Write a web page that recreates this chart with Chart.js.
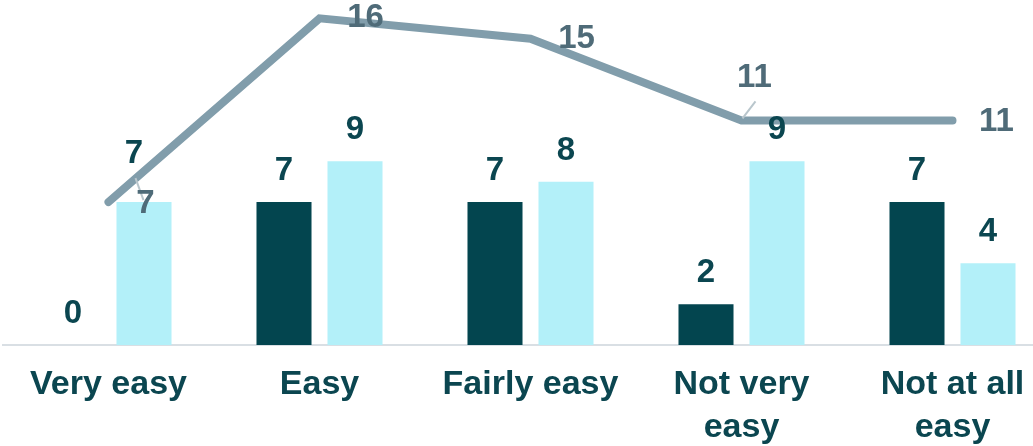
<!DOCTYPE html>
<html>
<head>
<meta charset="utf-8">
<script src="https://cdn.jsdelivr.net/npm/chart.js@4"></script>
<style>
html,body{margin:0;padding:0;background:#fff;overflow:hidden;width:1033px;height:446px;}
#wrap{position:absolute;left:0;top:0;width:1061px;height:446px;}
</style>
</head>
<body>
<div id="wrap"><canvas id="c" width="1061" height="446"></canvas></div>
<script>
const categories = [["Very easy"], ["Easy"], ["Fairly easy"], ["Not very", "easy"], ["Not at all", "easy"]];
const darkSeries = [0, 7, 7, 2, 7];
const lightSeries = [7, 9, 8, 9, 4];
const lineSeries = [7, 16, 15, 11, 11];

const DARK = '#03454f';
const LIGHT = '#b3f0f9';
const LINE = '#819dab';
const BAR_LABEL = '#0b4650';
const LINE_LABEL = '#4f6b78';

const labelPlugin = {
  id: 'valueLabels',
  afterDatasetsDraw(chart) {
    const ctx = chart.ctx;
    ctx.save();
    ctx.textAlign = 'center';
    ctx.textBaseline = 'middle';
    ctx.font = 'bold 33px "Liberation Sans", Arial, sans-serif';
    [0, 1].forEach(d => {
      const meta = chart.getDatasetMeta(d);
      const vals = chart.data.datasets[d].data;
      meta.data.forEach((el, i) => {
        let dx = 0, dy = -31;
        if (d === 1 && i === 0) { dx = -10; dy = -48; }
        ctx.fillStyle = BAR_LABEL;
        ctx.fillText(String(vals[i]), el.x + dx, el.y + dy);
      });
    });
    const lm = chart.getDatasetMeta(2);
    const lv = chart.data.datasets[2].data;
    const offs = [[37, 2], [46, 0], [46, 0], [13, -43], [44, 1]];
    const leaders = {0: [27, -24, 35, -2], 3: [1, -2, 14, -19]};
    lm.data.forEach((el, i) => {
      if (leaders[i]) {
        const l = leaders[i];
        ctx.strokeStyle = '#b9c6cc';
        ctx.lineWidth = 2;
        ctx.beginPath();
        ctx.moveTo(el.x + l[0], el.y + l[1]);
        ctx.lineTo(el.x + l[2], el.y + l[3]);
        ctx.stroke();
      }
      ctx.fillStyle = LINE_LABEL;
      ctx.fillText(String(lv[i]), el.x + offs[i][0], el.y + offs[i][1]);
    });
    ctx.restore();
  }
};

new Chart(document.getElementById('c'), {
  data: {
    labels: categories,
    datasets: [
      {type: 'bar', data: darkSeries, backgroundColor: DARK, categoryPercentage: 0.673, barPercentage: 0.775, order: 2},
      {type: 'bar', data: lightSeries, backgroundColor: LIGHT, categoryPercentage: 0.673, barPercentage: 0.775, order: 2},
      {type: 'line', data: lineSeries, borderColor: LINE, borderWidth: 8, borderCapStyle: 'round',
       borderJoinStyle: 'miter', pointRadius: 0, tension: 0, clip: false, order: 1}
    ]
  },
  options: {
    responsive: false,
    devicePixelRatio: 1,
    animation: false,
    layout: {padding: {left: 3, right: 3, top: 0, bottom: 0}},
    plugins: {legend: {display: false}, tooltip: {enabled: false}},
    scales: {
      x: {
        offset: true,
        grid: {display: false, drawTicks: false},
        border: {display: true, color: '#d9dfe4', width: 2},
        ticks: {
          color: BAR_LABEL,
          font: {family: '"Liberation Sans", Arial, sans-serif', size: 34, weight: 'bold', lineHeight: 1.24},
          padding: 19,
          maxRotation: 0,
          autoSkip: false
        },
        afterFit(s) { s.height = 101; }
      },
      y: {display: false, min: 0, max: 16.9}
    }
  },
  plugins: [labelPlugin]
});
</script>
</body>
</html>
